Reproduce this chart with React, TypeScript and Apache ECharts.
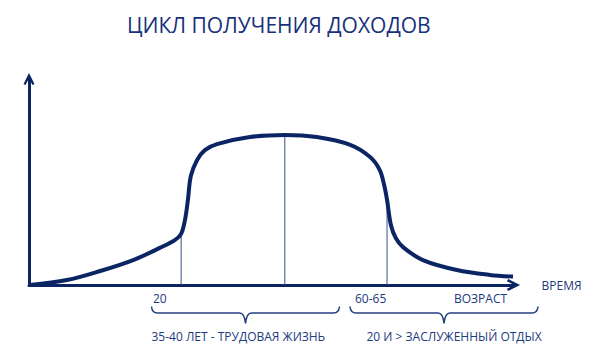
import React, { useEffect, useRef } from "react";
import * as echarts from "echarts";

// Curve of income over life (abstract units: x 0..100 time, y 0..100 income)
const curveX = [0.2, 7.8, 14.7, 21.5, 27.0, 30.1, 31.4, 32.2, 32.8, 33.4, 34.7, 36.3, 38.8, 45.6, 52.8, 59.4, 66.3, 70.4, 72.4, 73.3, 73.9, 74.7, 75.7, 77.2, 81.3, 88.3, 95.1, 99.9];
const curveY = [0, 2.4, 6.8, 12.1, 18.0, 21.8, 24.8, 31.6, 41.3, 52.9, 60.7, 65.5, 68.4, 71.8, 72.8, 71.8, 68.0, 62.1, 55.8, 48.5, 41.3, 29.1, 22.8, 18.4, 12.1, 7.3, 4.9, 4.1];

// Vertical guide lines: x position and height (reaching the curve)
const guideX = [31.4, 52.8, 73.9];
const guideTop = [24.8, 72.8, 41.3];

const titleText = "ЦИКЛ ПОЛУЧЕНИЯ ДОХОДОВ";
const axisName = "ВРЕМЯ";
const tickLabels = ["20", "60-65", "ВОЗРАСТ"];
const braceLabels = ["35-40 ЛЕТ - ТРУДОВАЯ ЖИЗНЬ", "20 И > ЗАСЛУЖЕННЫЙ ОТДЫХ"];

const NAVY = "#0b2463";
const TEXT = "#1d3a7e";
const FONT = '"Open Sans", sans-serif';

const braceD =
  "M0,0 Q0.5,6.5 6,6.5 L88,6.5 Q93,6.5 94,17 Q95,6.5 100,6.5 L182,6.5 Q187.5,6.5 188,0";
echarts.graphic.registerShape("brace", echarts.graphic.extendPath(braceD, {}) as any);

const chevron = "path://M5,0 L10,10 L8.2,11 L5,5 L1.8,11 L0,10 Z";

export default function App() {
  const ref = useRef<HTMLDivElement>(null);
  useEffect(() => {
    if (!ref.current) return;
    const chart = echarts.init(ref.current, null, { renderer: "svg" });
    const guideSeries = guideX.map((gx, i) => ({
      type: "line",
      data: [
        [gx, 0],
        [gx, guideTop[i]],
      ],
      symbol: "none",
      lineStyle: { color: "#3a4f8c", width: 1 },
      z: 1,
      silent: true,
    }));
    const textEl = (x: number, y: number, text: string, size: number) => ({
      type: "text",
      x,
      y,
      style: {
        text,
        fill: TEXT,
        fontSize: size,
        fontFamily: FONT,
        textAlign: "left",
        textVerticalAlign: "middle",
      },
      silent: true,
    });
    chart.setOption({
      animation: false,
      title: {
        text: titleText,
        left: 122,
        top: 9,
        textStyle: { color: "#17317a", fontSize: 21, fontWeight: "normal", fontFamily: FONT },
      },
      grid: { left: 29, right: 77.5, top: 79, bottom: 72, outerBoundsMode: "none" },
      xAxis: {
        type: "value",
        min: 0,
        max: 100,
        name: axisName,
        nameLocation: "end",
        nameGap: 28,
        nameTextStyle: { color: TEXT, fontSize: 12, fontFamily: FONT, verticalAlign: "middle" },
        axisLine: {
          show: true,
          symbol: ["none", chevron],
          symbolSize: [12, 15],
          lineStyle: { color: NAVY, width: 3 },
        },
        axisTick: { show: false },
        axisLabel: { show: false },
        splitLine: { show: false },
      },
      yAxis: {
        type: "value",
        min: 0,
        max: 100,
        axisLine: {
          show: true,
          symbol: ["none", chevron],
          symbolSize: [11, 16],
          lineStyle: { color: NAVY, width: 3 },
        },
        axisTick: { show: false },
        axisLabel: { show: false },
        splitLine: { show: false },
      },
      series: [
        ...guideSeries,
        {
          type: "line",
          data: curveX.map((x, i) => [x, curveY[i]]),
          smooth: 0.35,
          symbol: "none",
          clip: false,
          lineStyle: { color: NAVY, width: 4 },
          z: 3,
          silent: true,
        },
      ],
      graphic: [
        textEl(153, 298, tickLabels[0], 12),
        textEl(355, 298, tickLabels[1], 12),
        textEl(454, 298, tickLabels[2], 12),
        {
          type: "brace",
          x: 151.5,
          y: 306.5,
          style: { stroke: "#24407f", fill: null, lineWidth: 1.5 },
          silent: true,
        },
        {
          type: "brace",
          x: 350,
          y: 306.5,
          style: { stroke: "#24407f", fill: null, lineWidth: 1.5 },
          silent: true,
        },
        textEl(151.5, 336, braceLabels[0], 12),
        textEl(366.5, 336.5, braceLabels[1], 12),
      ],
    });
    return () => chart.dispose();
  }, []);
  return (
    <div
      ref={ref}
      style={{ position: "absolute", left: 0, top: 0, width: 591, height: 357, background: "#fff" }}
    />
  );
}
